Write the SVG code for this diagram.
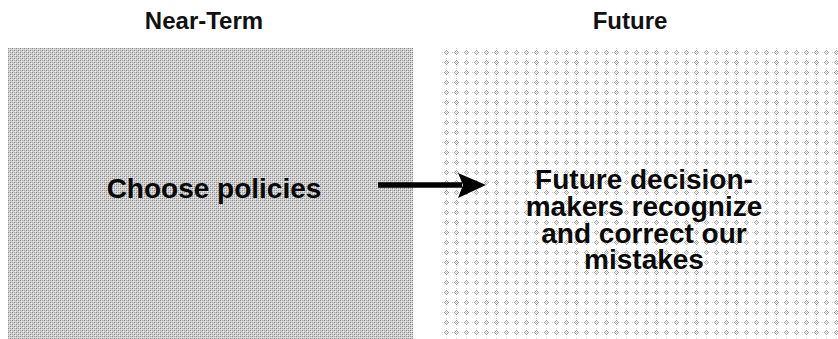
<svg xmlns="http://www.w3.org/2000/svg" width="838" height="339" viewBox="0 0 838 339">
  <defs>
    <pattern id="dense" x="0" y="0" width="4" height="4" patternUnits="userSpaceOnUse">
      <rect width="4" height="4" fill="#d0d0d0"/>
      <rect x="0" y="0" width="1" height="1" fill="#888888"/>
      <rect x="2" y="2" width="1" height="1" fill="#888888"/>
      <rect x="2" y="0" width="1" height="1" fill="#a4a4a4"/>
      <rect x="0" y="2" width="1" height="1" fill="#a4a4a4"/>
      <rect x="1" y="1" width="1" height="1" fill="#f0f0f0"/>
      <rect x="3" y="3" width="1" height="1" fill="#f0f0f0"/>
    </pattern>
    <pattern id="sparse" x="442" y="48" width="10" height="10" patternUnits="userSpaceOnUse">
      <rect width="10" height="10" fill="#ffffff"/>
      <rect x="4" y="2" width="1" height="1" fill="#a6a6a6"/>
      <rect x="3" y="3" width="1" height="1" fill="#a6a6a6"/>
      <rect x="5" y="3" width="1" height="1" fill="#a6a6a6"/>
      <rect x="2" y="4" width="1" height="1" fill="#a6a6a6"/>
      <rect x="6" y="4" width="1" height="1" fill="#a6a6a6"/>
      <rect x="3" y="5" width="1" height="1" fill="#a6a6a6"/>
      <rect x="5" y="5" width="1" height="1" fill="#a6a6a6"/>
      <rect x="4" y="6" width="1" height="1" fill="#a6a6a6"/>
      <rect x="4" y="4" width="1" height="1" fill="#c8c8c8"/>
      <rect x="4" y="0" width="1" height="1" fill="#d8d8d8"/>
      <rect x="0" y="4" width="1" height="1" fill="#d8d8d8"/>
    </pattern>
  </defs>
  <style>
    .hdr { font-family: "Liberation Sans", Arial, sans-serif; font-weight: bold; font-size: 24px; fill: #111; text-anchor: middle; }
    .lbl { font-family: "Liberation Sans", Arial, sans-serif; font-weight: bold; font-size: 28px; fill: #0a0a0a; text-anchor: middle; }
  </style>
  <rect width="838" height="339" fill="#ffffff"/>

  <g id="header-near-term">
    <text class="hdr" x="204" y="29">Near-Term</text>
  </g>
  <g id="header-future">
    <text class="hdr" x="630" y="29">Future</text>
  </g>

  <g id="node-choose-policies">
    <rect x="8" y="48" width="405" height="291" fill="url(#dense)"/>
    <text class="lbl" x="214" y="198">Choose policies</text>
  </g>

  <g id="node-future-decision-makers">
    <rect x="442" y="48" width="396" height="291" fill="url(#sparse)"/>
    <text class="lbl" x="644" y="189">Future decision-</text>
    <text class="lbl" x="644" y="216">makers recognize</text>
    <text class="lbl" x="644" y="243">and correct our</text>
    <text class="lbl" x="644" y="269">mistakes</text>
  </g>

  <g id="connectors">
    <path d="M378,185 L462,185" stroke="#000" stroke-width="5.5" fill="none"/>
    <path d="M458,173 L486,185 L458,198 L463,185 Z" fill="#000"/>
  </g>
</svg>
